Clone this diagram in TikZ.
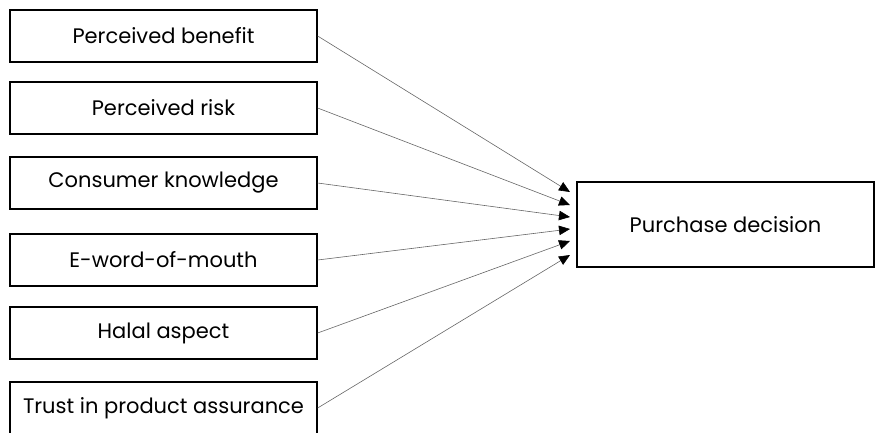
\documentclass[tikz,border=0pt]{standalone}
\usepackage{fontspec}
\setmainfont{Poppins}
\usetikzlibrary{arrows.meta}
\begin{document}
\begin{tikzpicture}[x=1pt,y=-1pt,
  factor/.style={draw=black,line width=1.3pt,minimum width=307pt,minimum height=52pt,inner sep=0pt,font=\fontsize{21}{24}\selectfont},
  outcome/.style={draw=black,line width=1.3pt,minimum width=297pt,minimum height=85pt,inner sep=0pt,font=\fontsize{21}{24}\selectfont},
  link/.style={draw=black!60,line width=0.6pt,-{Triangle[color=black,length=11pt,width=9.5pt]}}]
\useasboundingbox (0,0) rectangle (875,432);
\node[factor] (b1) at (163.5,36) {Perceived benefit};
\node[factor] (b2) at (163.5,108) {Perceived risk};
\node[factor] (b3) at (163.5,183) {Consumer knowledge};
\node[factor] (b4) at (163.5,260) {E-word-of-mouth};
\node[factor] (b5) at (163.5,333) {Halal aspect};
\node[factor] (b6) at (163.5,408) {Trust in product assurance};
\node[outcome] (pd) at (725.5,224.5) {Purchase decision};
\coordinate (t1) at (570,192);
\coordinate (t2) at (570,205);
\coordinate (t3) at (570,217);
\coordinate (t4) at (570,229);
\coordinate (t5) at (570,241);
\coordinate (t6) at (570,255);
\draw[link] (b1.east) -- (t1);
\draw[link] (b2.east) -- (t2);
\draw[link] (b3.east) -- (t3);
\draw[link] (b4.east) -- (t4);
\draw[link] (b5.east) -- (t5);
\draw[link] (b6.east) -- (t6);
\end{tikzpicture}
\end{document}
